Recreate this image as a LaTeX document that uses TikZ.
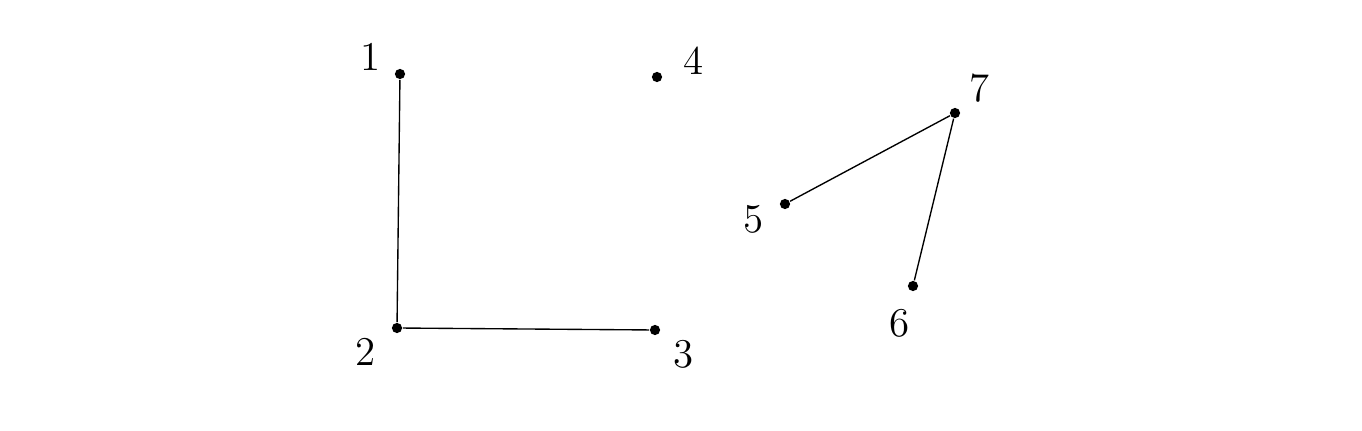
\documentclass[tikz,border=0pt]{standalone}
\usetikzlibrary{calc}

\begin{document}
\begin{tikzpicture}[
      x=0.010322cm, y=-0.010322cm, % one unit is one pixel of the sketch
      pt/.style={circle, fill=black, inner sep=0pt, minimum size=3pt}, % vertex dot
      num/.style={inner sep=0pt, font=\large}, % vertex number
      edge/.style={thin, black}, % connecting line
    ]

    % Rahmen
    \useasboundingbox (0,0) rectangle (1362,431);

    % Punkte
    \foreach \n/\x/\y in {1/400/74, 2/397/328, 3/655/330, 4/657/77,
                          5/785/204, 6/913/286, 7/955/113}
    \node[pt] (p\n) at (\x,\y) {};

    % Beschriftungen
    \foreach \n/\x/\y in {1/371/57, 2/366/352, 3/684/354, 4/694/61,
                          5/754/219, 6/900/323, 7/980/88}
    \node[num] (l\n) at (\x,\y) {\n};

    % Kanten
    \foreach \i/\j in {1/2, 2/3, 5/7, 7/6}
    \draw[edge] (p\i) -- (p\j);

\end{tikzpicture}
\end{document}
